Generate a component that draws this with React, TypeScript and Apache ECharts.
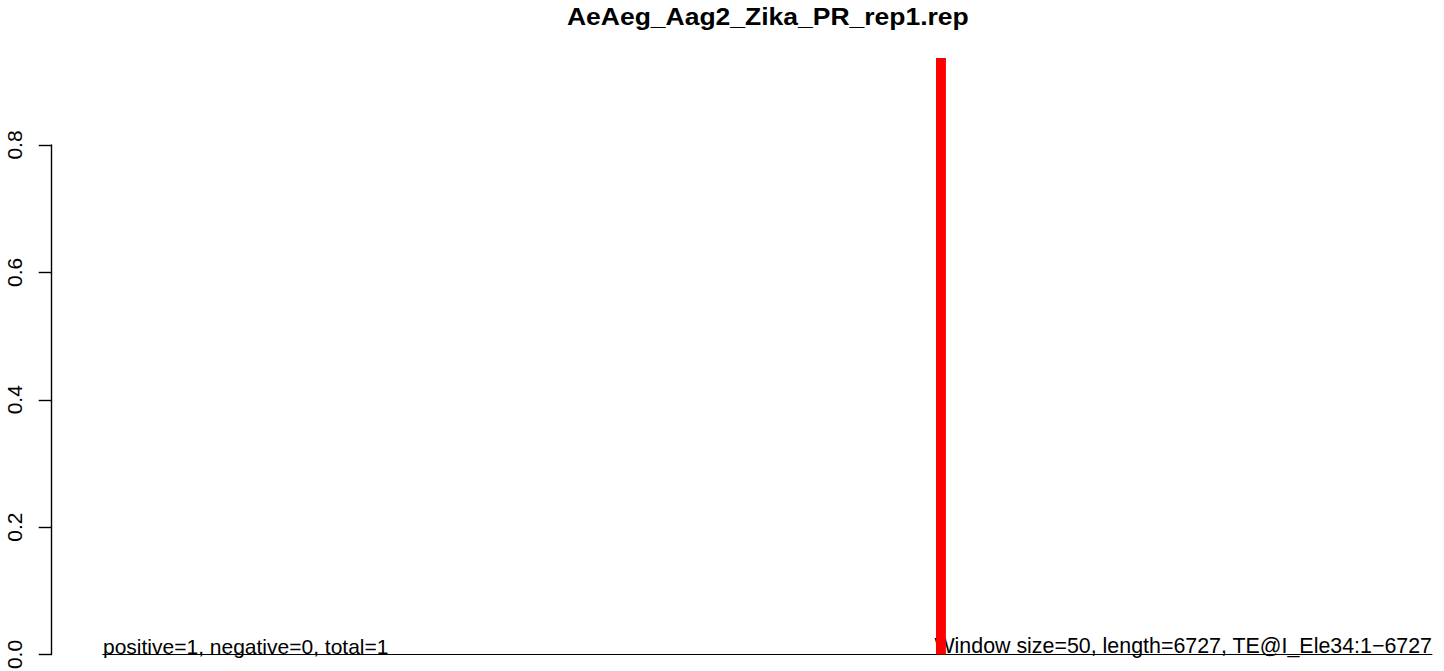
import React, { useEffect, useRef } from "react";
import * as echarts from "echarts";

const chartTitle = "AeAeg_Aag2_Zika_PR_rep1.rep";
const windowSize = 50;
const windowCount = 134;
const categories: string[] = Array.from({ length: windowCount }, (_, i) => String(i * windowSize + 1));
// fraction per window (one window is non-zero)
const barValues: number[] = [
  0, 0, 0, 0, 0, 0, 0, 0, 0, 0,
  0, 0, 0, 0, 0, 0, 0, 0, 0, 0,
  0, 0, 0, 0, 0, 0, 0, 0, 0, 0,
  0, 0, 0, 0, 0, 0, 0, 0, 0, 0,
  0, 0, 0, 0, 0, 0, 0, 0, 0, 0,
  0, 0, 0, 0, 0, 0, 0, 0, 0, 0,
  0, 0, 0, 0, 0, 0, 0, 0, 0, 0,
  0, 0, 0, 0, 0, 0, 0, 0, 0, 0,
  0, 0, 0, 0, 0.9366, 0, 0, 0, 0, 0,
  0, 0, 0, 0, 0, 0, 0, 0, 0, 0,
  0, 0, 0, 0, 0, 0, 0, 0, 0, 0,
  0, 0, 0, 0, 0, 0, 0, 0, 0, 0,
  0, 0, 0, 0, 0, 0, 0, 0, 0, 0,
  0, 0, 0, 0,
];
const yTickValues: number[] = [0, 0.2, 0.4, 0.6, 0.8];
const yTickLabels: string[] = ["0.0", "0.2", "0.4", "0.6", "0.8"];
const yMax = 0.9366;
const leftNote = "positive=1, negative=0, total=1";
const rightNote = "Window size=50, length=6727, TE@I_Ele34:1\u22126727";

const FONT = "'Liberation Sans', Arial, Helvetica, sans-serif";

export default function App() {
  const ref = useRef<HTMLDivElement>(null);
  useEffect(() => {
    if (!ref.current) return;
    const chart = echarts.init(ref.current, undefined, { renderer: "svg" });
    const gridLeft = 102.7;
    const gridRight = 12;
    const gridBottom = 16.5;
    const baseGraphics: any[] = [
      {
        id: "title",
        type: "text",
        x: 567,
        y: 28.5,
        scaleY: 0.9,
        style: {
          text: chartTitle,
          textAlign: "left",
          textVerticalAlign: "bottom",
          font: `bold 26.5px ${FONT}`,
          fill: "#000",
        },
      },
      {
        id: "leftNote",
        type: "text",
        x: 103,
        y: 656.5,
        style: {
          text: leftNote,
          textAlign: "left",
          textVerticalAlign: "bottom",
          font: `21px ${FONT}`,
          fill: "#000",
        },
      },
      {
        id: "rightNote",
        type: "text",
        x: 1432,
        y: 656.5,
        style: {
          text: rightNote,
          textAlign: "right",
          textVerticalAlign: "bottom",
          font: `21.4px ${FONT}`,
          fill: "#000",
        },
      },
    ];
    chart.setOption({
      animation: false,
      backgroundColor: "#ffffff",
      grid: [
        { left: gridLeft, right: gridRight, top: 58, bottom: gridBottom, outerBoundsMode: "none", containLabel: false },
        { left: gridLeft, right: gridRight, top: 145, bottom: gridBottom, outerBoundsMode: "none", containLabel: false },
      ],
      xAxis: [
        {
          type: "category",
          gridIndex: 0,
          data: categories,
          axisLine: { show: true, lineStyle: { color: "#000", width: 1 } },
          axisTick: { show: false },
          axisLabel: { show: false },
          splitLine: { show: false },
        },
        {
          type: "category",
          gridIndex: 1,
          data: categories,
          show: false,
        },
      ],
      yAxis: [
        {
          type: "value",
          gridIndex: 0,
          min: 0,
          max: yMax,
          show: false,
          splitLine: { show: false },
        },
        {
          type: "value",
          gridIndex: 1,
          min: 0,
          max: 0.8,
          interval: 0.2,
          offset: 51,
          axisLine: { show: true, lineStyle: { color: "#000", width: 1.4 } },
          axisTick: { show: true, length: 13, lineStyle: { color: "#000", width: 1.4 } },
          axisLabel: { show: false },
          splitLine: { show: false },
        },
      ],
      series: [
        {
          type: "bar",
          xAxisIndex: 0,
          yAxisIndex: 0,
          data: barValues,
          barCategoryGap: "0%",
          itemStyle: { color: "#ff0000" },
          silent: true,
        },
      ],
      graphic: baseGraphics,
    });
    const labelGraphics = yTickValues.map((v, i) => {
      const py = chart.convertToPixel({ yAxisIndex: 1 } as any, v) as number;
      return {
        id: "ylab" + i,
        type: "text",
        x: 14.7,
        y: py,
        rotation: Math.PI / 2,
        style: {
          text: yTickLabels[i],
          textAlign: "center",
          textVerticalAlign: "middle",
          font: `21px ${FONT}`,
          fill: "#000",
        },
      };
    });
    chart.setOption({ graphic: [...baseGraphics, ...labelGraphics] });
    return () => chart.dispose();
  }, []);
  return (
    <div
      ref={ref}
      style={{ position: "fixed", left: 0, top: 0, width: 1444, height: 671 }}
    />
  );
}
